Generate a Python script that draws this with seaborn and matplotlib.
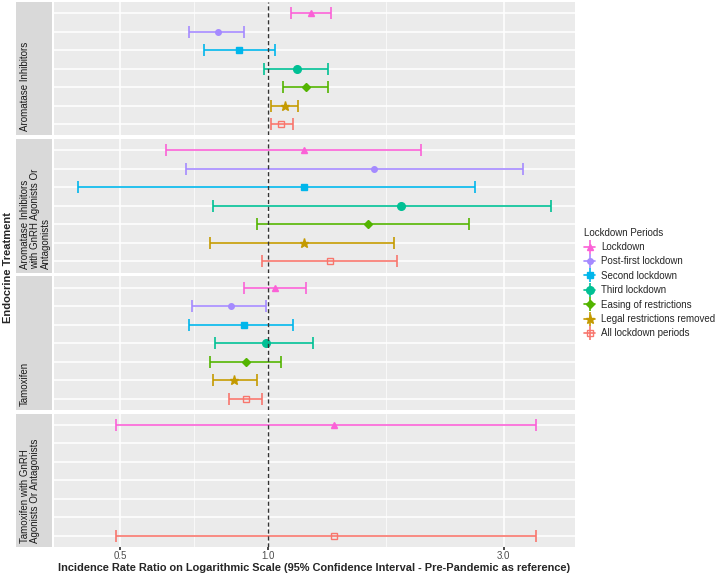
import numpy as np
import pandas as pd
import seaborn as sns
import matplotlib.pyplot as plt
from matplotlib.lines import Line2D
from matplotlib.legend_handler import HandlerTuple

# data
treatments = ["Aromatase Inhibitors",
              "Aromatase Inhibitors\nwith GnRH Agonists Or\nAntagonists",
              "Tamoxifen",
              "Tamoxifen with GnRH\nAgonists Or Antagonists"]
periods = ["Lockdown", "Post-first lockdown", "Second lockdown", "Third lockdown",
           "Easing of restrictions", "Legal restrictions removed", "All lockdown periods"]

ai_irr = [1.22, 0.79, 0.87, 1.14, 1.19, 1.08, 1.06]
ai_low = [1.11, 0.69, 0.74, 0.98, 1.07, 1.01, 1.01]
ai_high = [1.34, 0.89, 1.03, 1.32, 1.32, 1.15, 1.12]

aig_irr = [1.18, 1.64, 1.18, 1.86, 1.59, 1.18, 1.33]
aig_low = [0.62, 0.68, 0.41, 0.77, 0.95, 0.76, 0.97]
aig_high = [2.04, 3.29, 2.63, 3.75, 2.55, 1.80, 1.82]

tam_irr = [1.03, 0.84, 0.89, 0.99, 0.90, 0.85, 0.90]
tam_low = [0.89, 0.70, 0.69, 0.78, 0.76, 0.77, 0.83]
tam_high = [1.19, 0.99, 1.12, 1.23, 1.06, 0.95, 0.97]

tg_irr = [1.36, np.nan, np.nan, np.nan, np.nan, np.nan, 1.36]
tg_low = [0.49, np.nan, np.nan, np.nan, np.nan, np.nan, 0.49]
tg_high = [3.49, np.nan, np.nan, np.nan, np.nan, np.nan, 3.49]

x_ticks = [0.5, 1.0, 3.0]
x_ticklabels = ["0.5", "1.0", "3.0"]

colors = ["#FB61D7", "#A58AFF", "#00B6EB", "#00C094", "#53B400", "#C49A00", "#F8766D"]
markers = ["^", "o", "s", "o", "D", "*", "s"]
msizes = [5, 4, 4.5, 5.5, 4.5, 6.5, 5]
pal = dict(zip(periods, colors))
mk = dict(zip(periods, markers))
ms = dict(zip(periods, msizes))

rows = []
for t, irr, lo, hi in zip(treatments,
                          [ai_irr, aig_irr, tam_irr, tg_irr],
                          [ai_low, aig_low, tam_low, tg_low],
                          [ai_high, aig_high, tam_high, tg_high]):
    for i, p in enumerate(periods):
        rows.append({"treatment": t, "period": p, "ypos": i,
                     "irr": irr[i], "low": lo[i], "high": hi[i]})
df = pd.DataFrame(rows)

sns.set_theme(style="darkgrid", rc={"axes.facecolor": "#EBEBEB", "grid.color": "white"})
plt.rcParams["font.family"] = ["Liberation Sans", "DejaVu Sans"]


def draw_forest(data, **kws):
    ax = plt.gca()
    for _, r in data.iterrows():
        if np.isnan(r.irr):
            continue
        c = pal[r.period]
        ax.errorbar(r.irr, r.ypos, xerr=[[r.irr - r.low], [r.high - r.irr]], fmt="none",
                    ecolor=c, elinewidth=1.2, capsize=4, capthick=1.2, zorder=3)
        open_mk = r.period == "All lockdown periods"
        ax.plot(r.irr, r.ypos, marker=mk[r.period], ms=ms[r.period], color=c,
                mfc="none" if open_mk else c, mew=1.0, ls="", zorder=4)


g = sns.FacetGrid(df, row="treatment", row_order=treatments, sharex=True, sharey=True,
                  height=1.44, aspect=4.97)
g.map_dataframe(draw_forest)
g.set_titles("")
fig = g.figure
fig.set_size_inches(7.16, 5.76)
fig.subplots_adjust(left=54 / 716, right=575 / 716, top=1 - 2 / 576, bottom=1 - 547 / 576,
                    hspace=0.03)

lx = np.log(np.nanmin(df["low"]))
hx = np.log(np.nanmax(df["high"]))
pad = 0.05 * (hx - lx)
mids = [np.sqrt(x_ticks[0] * x_ticks[1]), np.sqrt(x_ticks[1] * x_ticks[2])]

n = len(treatments)
for k, (ax, t) in enumerate(zip(g.axes.flat, treatments)):
    ax.set_xscale("log")
    ax.set_xlim(np.exp(lx - pad), np.exp(hx + pad))
    ax.set_ylim(6.6, -0.6)
    ax.set_yticks(range(len(periods)))
    ax.set_yticklabels([])
    ax.set_xticks(x_ticks)
    ax.set_xticklabels(x_ticklabels)
    ax.set_xticks(mids, minor=True)
    ax.set_xticklabels([], minor=True)
    ax.grid(which="major", color="white", lw=1.1)
    ax.grid(which="minor", axis="x", color="white", lw=0.5)
    ax.tick_params(axis="y", length=0)
    last = k == n - 1
    ax.tick_params(axis="x", which="major", length=2 if last else 0, color="#333333",
                   bottom=last, labelbottom=last, labelsize=7, labelcolor="#4D4D4D", pad=1)
    ax.tick_params(axis="x", which="minor", length=0)
    ax.set_ylabel("")
    ax.set_xlabel("")
    ax.axvline(1.0, color="#333333", ls=(0, (3, 2)), lw=1.0, zorder=5)
    for s in ax.spines.values():
        s.set_visible(False)
    # strip on the left
    pos = ax.get_position()
    sax = fig.add_axes([16 / 716, pos.y0, 36 / 716, pos.height])
    sax.set_facecolor("#D9D9D9")
    sax.set_xticks([])
    sax.set_yticks([])
    for s in sax.spines.values():
        s.set_visible(False)
    sax.text(0.1, 0.03, t, rotation=90, ha="left", va="bottom", multialignment="left",
             fontsize=7, color="#1A1A1A", linespacing=1.1, transform=sax.transAxes)

fig.text(314.5 / 716, 1 - 568 / 576,
         "Incidence Rate Ratio on Logarithmic Scale (95% Confidence Interval - Pre-Pandemic as reference)",
         ha="center", va="center", fontsize=7.9, fontweight="bold")
fig.text(0.011, 1 - 267 / 576, "Endocrine Treatment", rotation=90, ha="center", va="center",
         fontsize=8, fontweight="bold")

handles = []
for p in periods:
    c = pal[p]
    h1 = Line2D([], [], color=c, lw=1.2, marker=mk[p], ms=ms[p],
                mfc="none" if p == "All lockdown periods" else c)
    h2 = Line2D([], [], color=c, ls="", marker="|", ms=10, mew=1.2)
    handles.append((h1, h2))
fig.legend(handles, periods, title="Lockdown Periods", loc="upper left",
           bbox_to_anchor=(575 / 716, 1 - 219 / 576), frameon=False, fontsize=7,
           title_fontsize=7, handlelength=1.2, handletextpad=0.6, labelspacing=0.45,
           numpoints=1, alignment="left", handler_map={tuple: HandlerTuple(ndivide=1)})

fig.savefig("out.png", dpi=100)
